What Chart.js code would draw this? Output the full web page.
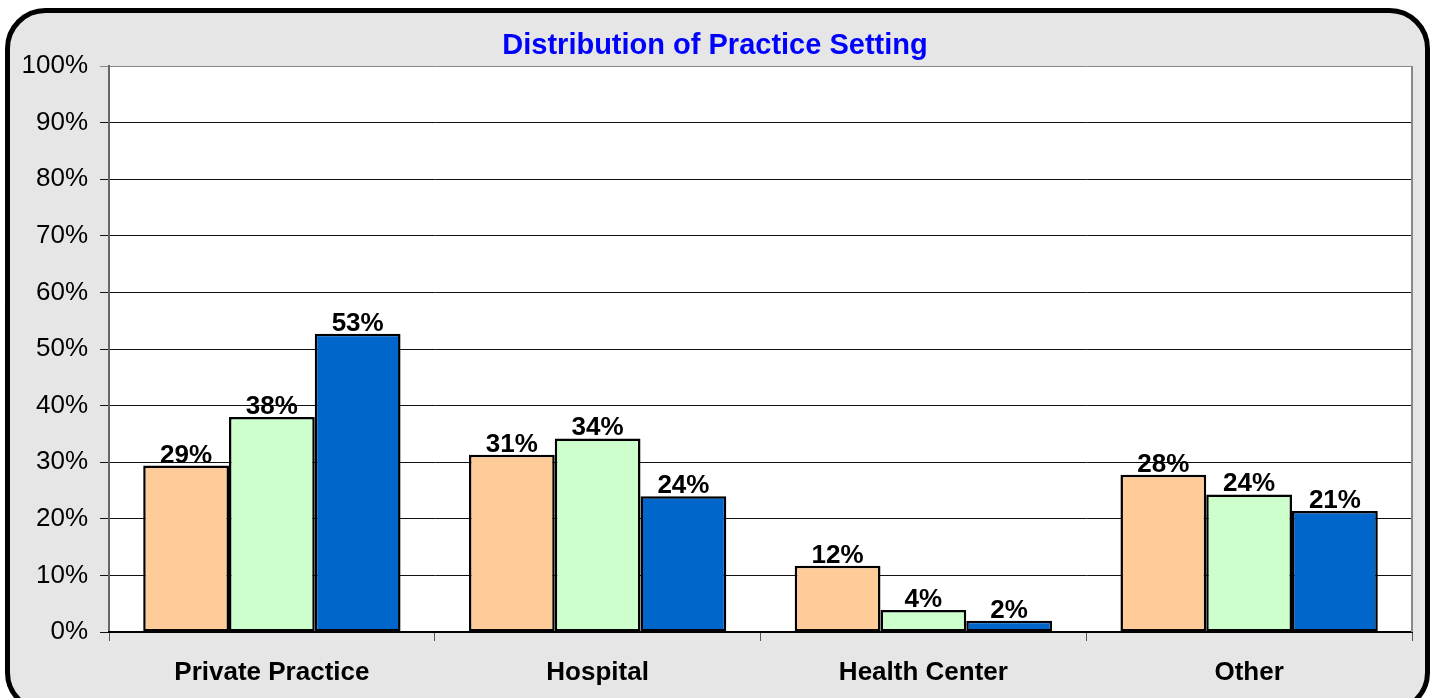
<!DOCTYPE html>
<html>
<head>
<meta charset="utf-8">
<script src="https://cdn.jsdelivr.net/npm/chart.js@4"></script>
<style>
  html, body { margin: 0; padding: 0; background: #fff; }
  #wrap { width: 1434px; height: 698px; }
</style>
</head>
<body>
<div id="wrap"><canvas id="myChart" width="1434" height="698"></canvas></div>
<script>
const categories = ['Private Practice', 'Hospital', 'Health Center', 'Other'];
const seriesA = [29.4, 31.3, 11.7, 27.8];
const seriesB = [38.0, 34.2, 3.9, 24.3];
const seriesC = [52.7, 24.0, 2.0, 21.4];
const yTicks = [0, 10, 20, 30, 40, 50, 60, 70, 80, 90, 100];
const titleText = 'Distribution of Practice Setting';

const FONT = '"Liberation Sans", Arial, sans-serif';

// frame, plot background, title, value labels
const decor = {
  id: 'decor',
  beforeDraw(chart) {
    const c = chart.ctx, a = chart.chartArea;
    c.save();
    c.fillStyle = '#fff';
    c.fillRect(0, 0, chart.width, chart.height);
    c.beginPath();
    c.roundRect(7.5, 10.5, 1420, 700, 38);
    c.fillStyle = '#e6e6e6';
    c.fill();
    c.lineWidth = 5;
    c.strokeStyle = '#000';
    c.stroke();
    c.fillStyle = '#fff';
    c.fillRect(a.left, a.top, a.right - a.left, a.bottom - a.top);
    c.restore();
  },
  afterDraw(chart) {
    const c = chart.ctx, a = chart.chartArea;
    c.save();
    c.strokeStyle = '#888';
    c.lineWidth = 2;
    c.beginPath();
    c.moveTo(a.right, a.top);
    c.lineTo(a.right, a.bottom);
    c.stroke();
    c.fillStyle = '#0000ff';
    c.font = 'bold 29px ' + FONT;
    c.textAlign = 'center';
    c.textBaseline = 'middle';
    c.fillText(titleText, 715, 46);
    c.fillStyle = '#000';
    c.font = 'bold 26px ' + FONT;
    c.textBaseline = 'alphabetic';
    chart.data.datasets.forEach((ds, i) => {
      chart.getDatasetMeta(i).data.forEach((bar, j) => {
        c.fillText(Math.round(ds.data[j]) + '%', bar.x, bar.y - 3);
      });
    });
    c.restore();
  }
};

const config = {
  type: 'bar',
  data: {
    labels: categories,
    datasets: [
      { label: 'A', data: seriesA, backgroundColor: '#ffcc99' },
      { label: 'B', data: seriesB, backgroundColor: '#ccffcc' },
      { label: 'C', data: seriesC, backgroundColor: '#0066cc' }
    ].map(d => Object.assign(d, {
      borderColor: '#000', borderWidth: 2.5, borderSkipped: false,
      categoryPercentage: 0.79, barPercentage: 1
    }))
  },
  options: {
    responsive: false,
    animation: false,
    layout: { padding: { top: 66, right: 22, left: 0, bottom: 0 } },
    plugins: { legend: { display: false }, title: { display: false }, tooltip: { enabled: false } },
    scales: {
      y: {
        min: 0, max: 100,
        afterFit: s => { s.width = 109; },
        afterBuildTicks: s => { s.ticks = yTicks.map(v => ({ value: v })); },
        ticks: {
          color: '#000', padding: 12,
          font: { family: FONT, size: 26 },
          callback: v => v + '%'
        },
        grid: {
          tickLength: 9,
          lineWidth: 1,
          color: ctx => ctx.tick && ctx.tick.value === 100 ? '#888' : '#111'
        },
        border: { color: '#666', width: 2 }
      },
      x: {
        afterFit: s => { s.height = 66; },
        ticks: {
          color: '#000', padding: 16,
          font: { family: FONT, size: 26, weight: 'bold' }
        },
        grid: { offset: true, drawOnChartArea: false, tickLength: 9, color: '#555' },
        border: { color: '#000', width: 2 }
      }
    }
  },
  plugins: [decor]
};

const myChart = new Chart(document.getElementById('myChart'), config);
</script>
</body>
</html>
